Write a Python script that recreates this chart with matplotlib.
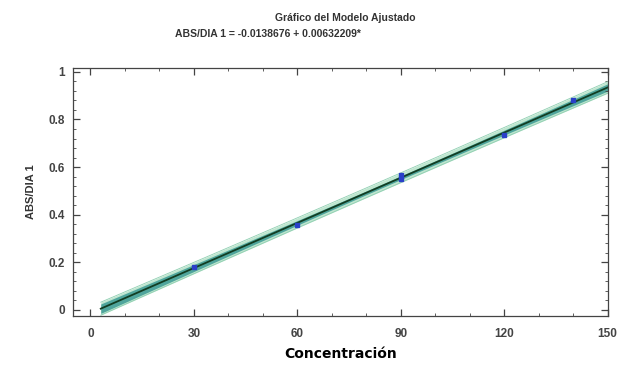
import numpy as np
import matplotlib
matplotlib.use('Agg')
import matplotlib.pyplot as plt
from matplotlib.ticker import MultipleLocator

conc = [30, 60, 90, 90, 120, 140]
absdia = [0.180, 0.357, 0.548, 0.565, 0.735, 0.880]

# fitted model shown in the title
b0 = -0.0138676
b1 = 0.00632209
t_crit = 2.776   # t(0.975, 4)
s_est = 0.0068   # residual std. error, estimated from the band width in the picture

xticks = [0, 30, 60, 90, 120, 150]
yticks = [0, 0.2, 0.4, 0.6, 0.8, 1]

plt.rcParams['font.family'] = ['Liberation Sans', 'DejaVu Sans']

x = np.array(conc, dtype=float)
n = len(x)
xm = x.mean()
sxx = np.sum((x - xm) ** 2)

xs = np.linspace(3, 150, 200)
yf = b0 + b1 * xs
conf = t_crit * s_est * np.sqrt(1.0 / n + (xs - xm) ** 2 / sxx)
pred = t_crit * s_est * np.sqrt(1 + 1.0 / n + (xs - xm) ** 2 / sxx)

fig = plt.figure(figsize=(6.2, 3.81), dpi=100)
ax = fig.add_axes([0.118, 0.171, 0.862, 0.651])

ax.fill_between(xs, yf - pred, yf + pred, color='#bfe6cf', lw=0)
ax.plot(xs, yf - pred, color='#8fcfb2', lw=0.6)
ax.plot(xs, yf + pred, color='#8fcfb2', lw=0.6)
ax.fill_between(xs, yf - conf, yf + conf, color='#4fa59c', lw=0)
ax.plot(xs, yf, color='#123d22', lw=1.3)
ax.plot(conc, absdia, 's', color='#2a3fc8', ms=3.2, mec='#2a3fc8')

ax.set_xlim(-5, 150)
ax.set_ylim(-0.025, 1.017)
ax.set_xticks(xticks)
ax.set_xticklabels([str(v) for v in xticks], fontweight='bold')
ax.set_yticks(yticks)
ax.set_yticklabels(['0', '0.2', '0.4', '0.6', '0.8', '1'], fontweight='bold')
ax.xaxis.set_minor_locator(MultipleLocator(10))
ax.yaxis.set_minor_locator(MultipleLocator(0.04))
ax.tick_params(which='both', direction='in', top=True, right=True, labelsize=8.5,
               colors='#444444', labelcolor='#444444')
ax.tick_params(which='major', length=5, width=0.9)
ax.tick_params(axis='x', which='major', pad=9)
ax.tick_params(axis='y', which='major', pad=6)
ax.tick_params(which='minor', length=2.5, width=0.6)
for sp in ax.spines.values():
    sp.set_color('#444444')
    sp.set_linewidth(0.9)

ax.set_ylabel('ABS/DIA 1', fontsize=8, fontweight='bold', labelpad=9, color='#333333')
ax.set_xlabel('Concentración', fontsize=10, fontweight='bold', labelpad=5,
              family=['Liberation Sans Narrow', 'DejaVu Sans'])

fig.text(0.557, 0.945, 'Gráfico del Modelo Ajustado', ha='center', fontsize=7.5, fontweight='bold', color='#333333')
fig.text(0.282, 0.903, 'ABS/DIA 1 = -0.0138676 + 0.00632209*', ha='left', fontsize=7.5, fontweight='bold', color='#333333')

fig.savefig('out.png', dpi=100)
